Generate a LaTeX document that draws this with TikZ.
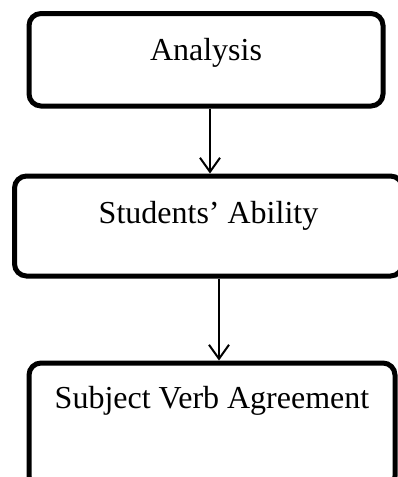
\documentclass[tikz,border=0pt]{standalone}
\usepackage{fontspec}
\setmainfont{Liberation Serif}
\usetikzlibrary{arrows.meta}
\tikzset{b/.style={draw,line width=5pt,rounded corners=12pt,inner xsep=0pt,inner ysep=0pt,anchor=base,font=\fontsize{32}{38}\selectfont}}
\tikzset{f/.style={line width=2pt,-{Straight Barb[length=14pt,width=20pt,line width=2pt]}}}

\begin{document}
\begin{tikzpicture}[x=1pt,y=1pt]
        \clip (0,0) rectangle (398,-477);
        \node[b,minimum width=354pt,text height=46.5pt,text depth=46pt] (A) at (206,-60) {Analysis};
        \node[b,minimum width=388pt,text height=47pt,text depth=53pt] (S) at (208.5,-223) {Students' Ability};
        \node[b,minimum width=366pt,text height=45pt,text depth=80pt] (V) at (212,-408) {Subject Verb Agreement};
        \draw[f] ([xshift=4pt]A.south) -- ([xshift=1.5pt]S.north);
        \draw[f] ([xshift=10.5pt]S.south) -- ([xshift=7pt]V.north);
      \end{tikzpicture}
\end{document}
